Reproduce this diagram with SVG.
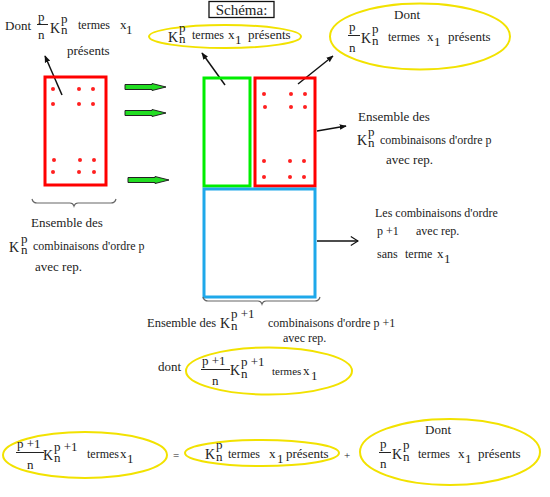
<svg xmlns="http://www.w3.org/2000/svg" width="550" height="497" viewBox="0 0 550 497" font-family="'Liberation Serif', 'Times New Roman', serif">
<style>
text{font-family:'Liberation Serif','Times New Roman',serif;font-size:13px;fill:#222}
.k{font-size:14px}
.s{font-size:12px}
.tm{font-size:12px}
.t11{font-size:11px}
.ell{fill:none;stroke:#f2e200;stroke-width:2}
.bar{stroke:#222;stroke-width:1}
.dot{fill:#ff2020}
.arr{stroke:#111;stroke-width:1.5;fill:none}
.garr{fill:#22dd22;stroke:#222;stroke-width:1}
.brace{fill:none;stroke:#666;stroke-width:1.2}
</style>
<defs>
<marker id="ah" viewBox="0 0 10 10" refX="9" refY="5" markerWidth="7" markerHeight="7" orient="auto" markerUnits="userSpaceOnUse">
<path d="M0,1 L10,5 L0,9 z" fill="#111"/>
</marker>
<marker id="ov" viewBox="0 0 10 10" refX="9" refY="5" markerWidth="9" markerHeight="11" orient="auto" markerUnits="userSpaceOnUse">
<path d="M1,0 L9,5 L1,10" fill="none" stroke="#111" stroke-width="1.3"/>
</marker>
</defs>

<g id="connectors">
<line class="arr" x1="62" y1="95" x2="45" y2="56" marker-end="url(#ah)"/>
<line class="arr" x1="225" y1="85" x2="202" y2="53" marker-end="url(#ah)"/>
<line class="arr" x1="298" y1="84" x2="333" y2="56" marker-end="url(#ah)"/>
<line class="arr" x1="317" y1="131" x2="346" y2="126" marker-end="url(#ah)"/>
<line class="arr" x1="317" y1="241" x2="358" y2="241" marker-end="url(#ov)"/>
<polygon class="garr" points="125,84.5 152,84.5 152,83.5 166,87 152,90.5 152,89.5 125,89.5"/>
<polygon class="garr" points="125,110.5 152,110.5 152,109.5 166,113 152,116.5 152,115.5 125,115.5"/>
<polygon class="garr" points="128,177.5 155,177.5 155,176.5 169,180 155,183.5 155,182.5 128,182.5"/>
</g>

<g id="top-left-label">
<text x="5" y="30">Dont</text>
<text x="38" y="21">p</text>
<line class="bar" x1="37" y1="24.5" x2="48" y2="24.5"/>
<text x="38" y="39">n</text>
<text class="k" x="50" y="33">K</text>
<text x="61" y="23">p</text>
<text x="61" y="34">n</text>
<text class="tm" x="78" y="29">termes</text>
<text x="120" y="29">x</text>
<text x="126" y="34">1</text>
<text x="67" y="55">présents</text>
</g>

<g id="left-rect">
<rect x="45" y="77" width="61" height="108" fill="none" stroke="#ff0000" stroke-width="3"/>
<circle class="dot" cx="53" cy="89" r="2"/><circle class="dot" cx="79" cy="89" r="2"/><circle class="dot" cx="93" cy="89" r="2"/>
<circle class="dot" cx="53" cy="104" r="2"/><circle class="dot" cx="79" cy="104" r="2"/><circle class="dot" cx="93" cy="104" r="2"/>
<circle class="dot" cx="54" cy="160" r="2"/><circle class="dot" cx="80" cy="160" r="2"/><circle class="dot" cx="94" cy="160" r="2"/>
<circle class="dot" cx="53" cy="172" r="2"/><circle class="dot" cx="79" cy="172" r="2"/><circle class="dot" cx="94" cy="172" r="2"/>
</g>

<g id="left-label">
<path class="brace" d="M32,199 Q33,203 37,203 L70,203 Q73,203 74,206 Q75,203 78,203 L111,203 Q115,203 116,199"/>
<text x="31" y="227">Ensemble des</text>
<text class="k" x="9" y="252">K</text>
<text x="21" y="243">p</text>
<text x="21" y="254">n</text>
<text class="s" x="33" y="250">combinaisons d'ordre p</text>
<text x="35" y="271">avec rep.</text>
</g>

<g id="schema">
<rect x="209" y="1.5" width="65" height="16" fill="#fff" stroke="#111" stroke-width="1.3"/>
<text x="241.5" y="15" text-anchor="middle" style="font-size:15px">Schéma:</text>
</g>

<g id="top-middle-ellipse">
<ellipse class="ell" cx="225" cy="36.5" rx="76" ry="11.5"/>
<text class="k" x="168" y="42">K</text>
<text x="179" y="32">p</text>
<text x="179" y="43">n</text>
<text class="tm" x="192" y="39">termes</text>
<text x="228" y="39">x</text>
<text x="235" y="44">1</text>
<text x="248" y="39">présents</text>
</g>

<g id="top-right-ellipse">
<ellipse class="ell" cx="420" cy="36.5" rx="90" ry="33"/>
<text x="394" y="19">Dont</text>
<text x="349" y="31">p</text>
<line class="bar" x1="348" y1="35.5" x2="360" y2="35.5"/>
<text x="349" y="52">n</text>
<text class="k" x="361" y="43">K</text>
<text x="372" y="33">p</text>
<text x="372" y="45">n</text>
<text class="tm" x="388" y="41">termes</text>
<text x="427" y="41">x</text>
<text x="434" y="46">1</text>
<text x="448" y="41">présents</text>
</g>

<g id="green-rect">
<rect x="204" y="78" width="46" height="108" fill="none" stroke="#00ee00" stroke-width="3"/>
</g>

<g id="red-rect">
<rect x="255" y="78" width="60" height="108" fill="none" stroke="#ff0000" stroke-width="3"/>
<circle class="dot" cx="264" cy="94" r="2"/><circle class="dot" cx="291" cy="94" r="2"/><circle class="dot" cx="305" cy="94" r="2"/>
<circle class="dot" cx="265" cy="107" r="2"/><circle class="dot" cx="291" cy="107" r="2"/><circle class="dot" cx="305" cy="107" r="2"/>
<circle class="dot" cx="264" cy="161" r="2"/><circle class="dot" cx="290" cy="161" r="2"/><circle class="dot" cx="304" cy="161" r="2"/>
<circle class="dot" cx="264" cy="177" r="2"/><circle class="dot" cx="290" cy="177" r="2"/><circle class="dot" cx="304" cy="177" r="2"/>
</g>

<g id="blue-rect">
<rect x="204" y="189" width="111" height="108" fill="none" stroke="#1ea8ea" stroke-width="3"/>
</g>

<g id="right-label">
<text x="358" y="121">Ensemble des</text>
<text class="k" x="357" y="145">K</text>
<text x="368" y="136">p</text>
<text x="368" y="147">n</text>
<text class="s" x="380" y="144">combinaisons d'ordre p</text>
<text x="386" y="164">avec rep.</text>
</g>

<g id="blue-label">
<text class="s" x="375" y="217">Les combinaisons d'ordre</text>
<text class="s" x="377" y="235">p +1</text>
<text class="s" x="416" y="235">avec rep.</text>
<text class="s" x="377" y="258">sans</text>
<text class="s" x="405" y="258">terme</text>
<text x="437" y="258">x</text>
<text x="444" y="263">1</text>
</g>

<g id="bottom-label">
<path class="brace" d="M203,297 Q204,301 208,301 L258,301 Q261,301 262,304 Q263,301 266,301 L315,301 Q319,301 320,297"/>
<text style="font-size:12.5px" x="147" y="327">Ensemble des</text>
<text class="k" x="220" y="328">K</text>
<text x="231" y="318">p +1</text>
<text x="231" y="330">n</text>
<text class="s" x="268" y="327">combinaisons d'ordre p +1</text>
<text class="s" x="283" y="342">avec  rep.</text>
<text x="158" y="371">dont</text>
</g>

<g id="dont-ellipse">
<ellipse class="ell" cx="269" cy="371" rx="83" ry="23.5"/>
<text x="202" y="365">p +1</text>
<line class="bar" x1="201" y1="369.5" x2="230" y2="369.5"/>
<text x="212" y="385">n</text>
<text class="k" x="230" y="375">K</text>
<text x="241" y="366">p +1</text>
<text x="241" y="378">n</text>
<text class="t11" x="272" y="375">termes</text>
<text x="303" y="375">x</text>
<text x="311" y="380">1</text>
</g>

<g id="eq-left">
<ellipse class="ell" cx="85" cy="455" rx="82" ry="23"/>
<text x="17" y="448">p +1</text>
<line class="bar" x1="16" y1="452.5" x2="44" y2="452.5"/>
<text x="27" y="469">n</text>
<text class="k" x="43" y="460">K</text>
<text x="54" y="451">p +1</text>
<text x="54" y="462">n</text>
<text class="tm" x="87" y="458">termes</text>
<text x="120" y="458">x</text>
<text x="127" y="463">1</text>
</g>

<text x="173" y="459" style="font-size:11px">=</text>

<g id="eq-middle">
<ellipse class="ell" cx="262" cy="453" rx="77" ry="13"/>
<text class="k" x="205" y="459">K</text>
<text x="216" y="449">p</text>
<text x="216" y="461">n</text>
<text class="tm" x="228" y="458">termes</text>
<text x="269" y="458">x</text>
<text x="277" y="463">1</text>
<text x="286" y="458">présents</text>
</g>

<text x="344" y="459" style="font-size:11px">+</text>

<g id="eq-right">
<ellipse class="ell" cx="450" cy="452" rx="90" ry="33"/>
<text x="425" y="434">Dont</text>
<text x="380" y="448">p</text>
<line class="bar" x1="379" y1="452.5" x2="391" y2="452.5"/>
<text x="380" y="468">n</text>
<text class="k" x="392" y="459">K</text>
<text x="403" y="449">p</text>
<text x="403" y="461">n</text>
<text class="tm" x="418" y="458">termes</text>
<text x="458" y="458">x</text>
<text x="465" y="463">1</text>
<text x="478" y="458">présents</text>
</g>
</svg>
